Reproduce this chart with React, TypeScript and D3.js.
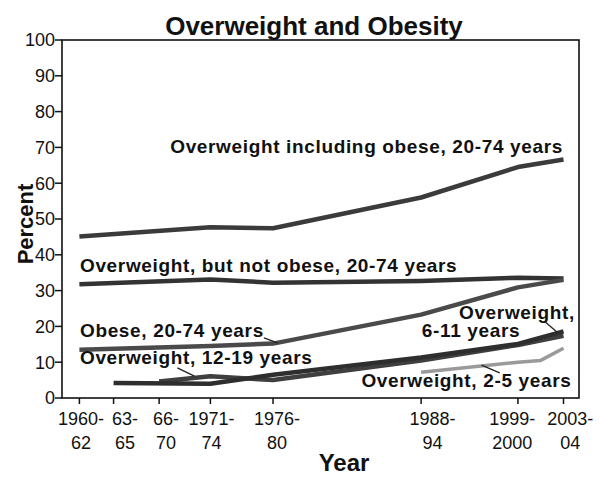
import React from "react";
import * as d3 from "d3";

// x positions are survey-period midpoints (years)
const tickYears = [1961, 1964, 1968, 1972.5, 1978, 1991, 1999.5, 2003.5];
// where each tick label is centred (years), as in the original layout
const tickLabelYears = [1961.15, 1965.0, 1968.6, 1972.6, 1978.35, 1992.0, 1999.0, 2004.1];
const tickLine1 = ["1960-", "63-", "66-", "1971-", "1976-", "1988-", "1999-", "2003-"];
const tickLine2 = ["62", "65", "70", "74", "80", "94", "2000", "04"];
const yTicks = [0, 10, 20, 30, 40, 50, 60, 70, 80, 90, 100];

const inclObeseYears = [1961, 1972.5, 1978, 1991, 1999.5, 2003.5];
const inclObeseValues = [45.1, 47.7, 47.4, 56.0, 64.5, 66.6];

const notObeseYears = [1961, 1972.5, 1978, 1991, 1999.5, 2003.5];
const notObeseValues = [31.8, 33.1, 32.2, 32.7, 33.6, 33.4];

const obeseYears = [1961, 1972.5, 1978, 1991, 1999.5, 2003.5];
const obeseValues = [13.5, 14.5, 15.2, 23.3, 30.9, 33.0];

const age6to11Years = [1964, 1972.5, 1978, 1991, 1999.5, 2003.5];
const age6to11Values = [4.2, 4.0, 6.5, 11.3, 15.1, 18.6];

const age12to19Years = [1968, 1972.5, 1978, 1991, 1999.5, 2003.5];
const age12to19Values = [4.6, 6.1, 5.0, 10.5, 14.8, 17.4];

const age2to5Years = [1991, 1999.5, 2001.5, 2003.5];
const age2to5Values = [7.2, 10.0, 10.5, 13.9];

const labelTexts = [
  "Overweight including obese, 20-74 years",
  "Overweight, but not obese, 20-74 years",
  "Obese, 20-74 years",
  "Overweight, 12-19 years",
  "Overweight,",
  "6-11 years",
  "Overweight, 2-5 years",
];
const labelYears = [2003.46, 1961.05, 1961.05, 1961.05, 2004.5, 1999.7, 2004.2];
const labelValues = [68.3, 35.2, 17.0, 9.5, 22.1, 17.0, 3.1];
const labelAnchors = ["end", "start", "start", "start", "end", "end", "end"];

const leaderX1 = [1977.2, 1969.6, 2001.9, 1997.9];
const leaderY1 = [16.8, 8.4, 21.2, 7.0];
const leaderX2 = [1978.4, 1971.1, 2003.0, 1996.3];
const leaderY2 = [15.4, 6.1, 18.2, 9.2];

const W = 600;
const H = 479;
const left = 62;
const right = 579;
const top = 40;
const bottom = 398;

export default function App() {
  const x = d3.scaleLinear().domain([1961, 2003.5]).range([79.4, 563.5]);
  const y = d3.scaleLinear().domain([0, 100]).range([bottom, top]);
  const line = d3
    .line<[number, number]>()
    .x((d) => x(d[0]))
    .y((d) => y(d[1]));
  const mk = (ys: number[], vs: number[]) => ys.map((t, i) => [t, vs[i]] as [number, number]);

  const series = [
    { pts: mk(inclObeseYears, inclObeseValues), color: "#3b3b3b", w: 4.5 },
    { pts: mk(notObeseYears, notObeseValues), color: "#333333", w: 4.5 },
    { pts: mk(obeseYears, obeseValues), color: "#4a4a4a", w: 4.5 },
    { pts: mk(age12to19Years, age12to19Values), color: "#3f3f3f", w: 4.5 },
    { pts: mk(age6to11Years, age6to11Values), color: "#2e2e2e", w: 4.5 },
    { pts: mk(age2to5Years, age2to5Values), color: "#9a9a9a", w: 3.5 },
  ];

  const font = "'Liberation Sans', Arial, Helvetica, sans-serif";

  return (
    <svg width={W} height={H} style={{ position: "absolute", left: 0, top: 0, background: "#fff" }} fontFamily={font}>
      <rect x={0} y={0} width={W} height={H} fill="#fff" />
      <text x={314} y={35} textAnchor="middle" fontSize={26} fontWeight="bold" fill="#111">
        Overweight and Obesity
      </text>
      <rect x={left} y={top} width={right - left} height={bottom - top} fill="none" stroke="#111" strokeWidth={1.6} />
      {yTicks.map((t) => (
        <g key={"y" + t}>
          <line x1={left - 7} x2={left} y1={y(t)} y2={y(t)} stroke="#111" strokeWidth={1.5} />
          <text x={left - 7} y={y(t)} dy="0.35em" textAnchor="end" fontSize={18} fill="#111">
            {t}
          </text>
        </g>
      ))}
      {tickYears.map((t, i) => (
        <g key={"x" + i}>
          <line x1={x(t)} x2={x(t)} y1={bottom} y2={bottom + 6} stroke="#111" strokeWidth={1.5} />
          <text x={x(tickLabelYears[i])} y={425} textAnchor="middle" fontSize={18} fill="#111">
            {tickLine1[i]}
          </text>
          <text x={x(tickLabelYears[i])} y={449} textAnchor="middle" fontSize={18} fill="#111">
            {tickLine2[i]}
          </text>
        </g>
      ))}
      <text x={344} y={471} textAnchor="middle" fontSize={24} fontWeight="bold" fill="#111">
        Year
      </text>
      <text transform={`translate(33, 224) rotate(-90)`} textAnchor="middle" fontSize={22} fontWeight="bold" fill="#111">
        Percent
      </text>
      {series.map((s, i) => (
        <path key={"s" + i} d={line(s.pts) || ""} fill="none" stroke={s.color} strokeWidth={s.w} strokeLinejoin="round" />
      ))}
      {leaderX1.map((v, i) => (
        <line
          key={"l" + i}
          x1={x(v)}
          y1={y(leaderY1[i])}
          x2={x(leaderX2[i])}
          y2={y(leaderY2[i])}
          stroke="#222"
          strokeWidth={1.3}
        />
      ))}
      {labelTexts.map((t, i) => (
        <text
          key={"t" + i}
          x={x(labelYears[i])}
          y={y(labelValues[i])}
          textAnchor={labelAnchors[i]}
          fontSize={19}
          fontWeight="bold"
          letterSpacing={0.65}
          fill="#111"
        >
          {t}
        </text>
      ))}
    </svg>
  );
}
